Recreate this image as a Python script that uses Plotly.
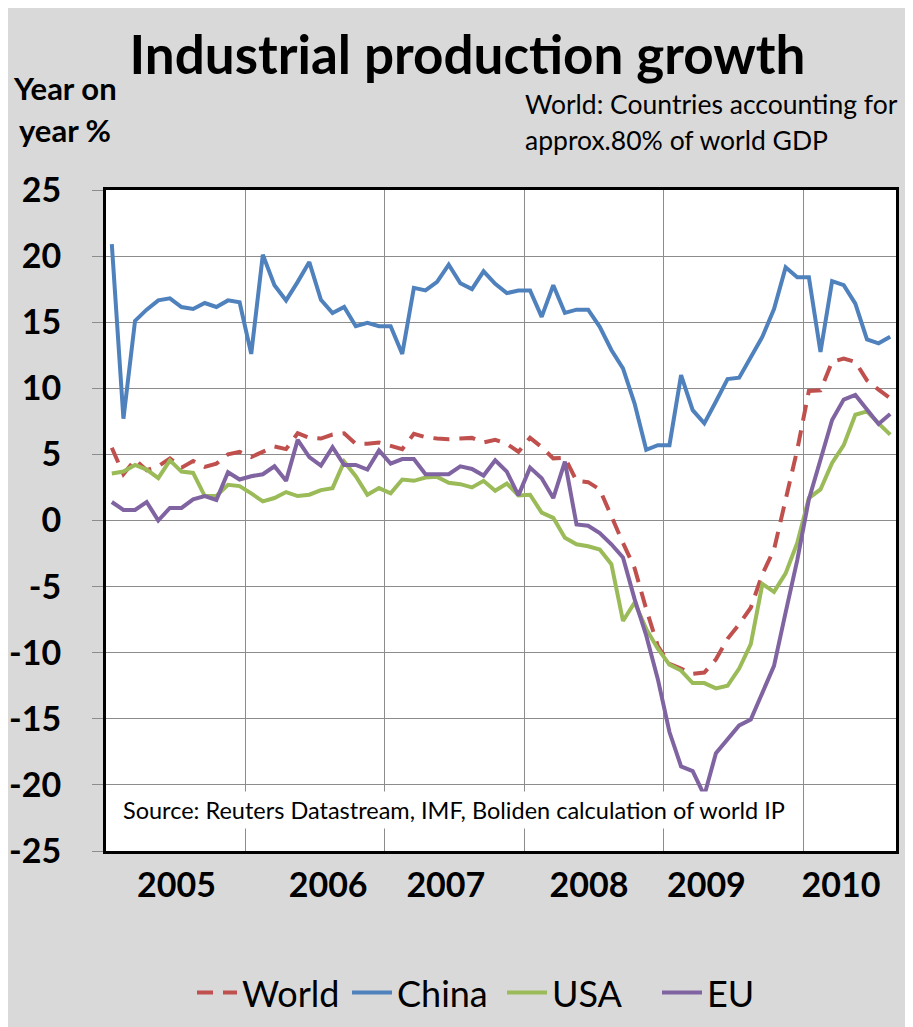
import plotly.graph_objects as go

# Monthly year-on-year industrial production growth, %
month_idx = list(range(68))

world = [5.5, 3.5, 4.6, 3.8, 4.1, 4.7, 4.0, 4.5, 4.05, 4.3,
         5.0, 5.2, 4.8, 5.2, 5.6, 5.4, 6.6, 6.25, 6.2, 6.5,
         6.6, 5.8, 5.8, 5.9, 5.65, 5.4, 6.55, 6.3, 6.2, 6.15,
         6.2, 6.25, 5.9, 6.1, 5.8, 5.2, 6.25, 5.55, 4.7, 4.75,
         3.0, 2.9, 2.35, 0.3, -1.7, -3.6, -6.7, -9.5, -10.85, -11.2,
         -11.6, -11.5, -10.5, -8.95, -7.85, -6.6, -4.05, -2.2, 1.6, 5.35,
         9.8, 9.85, 12.0, 12.25, 12.0, 10.6, 9.9, 9.25]

china = [20.9, 7.7, 15.1, 15.95, 16.65, 16.8, 16.15, 16.0, 16.45, 16.15,
         16.65, 16.5, 12.6, 20.1, 17.8, 16.65, 18.05, 19.55, 16.7, 15.7,
         16.15, 14.7, 14.95, 14.7, 14.7, 12.6, 17.6, 17.4, 18.05, 19.35,
         17.95, 17.5, 18.85, 17.9, 17.2, 17.4, 17.4, 15.4, 17.8, 15.7,
         15.95, 15.95, 14.65, 12.9, 11.5, 8.85, 5.35, 5.7, 5.7, 11.0,
         8.35, 7.35, 9.0, 10.7, 10.8, 12.4, 13.9, 16.0, 19.15, 18.4,
         18.4, 12.75, 18.1, 17.8, 16.4, 13.7, 13.4, 13.9]

usa = [3.55, 3.7, 4.2, 3.85, 3.2, 4.55, 3.7, 3.6, 1.85, 1.85,
       2.7, 2.6, 2.05, 1.45, 1.7, 2.15, 1.85, 1.95, 2.3, 2.45,
       4.45, 3.35, 1.95, 2.45, 2.05, 3.1, 3.0, 3.25, 3.3, 2.85,
       2.75, 2.5, 3.0, 2.25, 2.8, 1.9, 1.95, 0.6, 0.2, -1.3,
       -1.8, -1.95, -2.2, -3.3, -7.6, -6.2, -8.2, -9.7, -10.9, -11.35,
       -12.3, -12.3, -12.7, -12.5, -11.2, -9.35, -4.8, -5.4, -4.0, -1.7,
       1.7, 2.35, 4.35, 5.7, 8.0, 8.25, 7.35, 6.5]

eu = [1.4, 0.8, 0.8, 1.4, 0.0, 0.95, 0.95, 1.6, 1.85, 1.55,
      3.65, 3.1, 3.35, 3.5, 4.1, 3.0, 6.1, 4.8, 4.15, 5.55,
      4.2, 4.2, 3.85, 5.3, 4.3, 4.65, 4.65, 3.5, 3.5, 3.5,
      4.1, 3.9, 3.4, 4.55, 3.7, 1.9, 4.0, 3.2, 1.7, 4.45,
      -0.3, -0.4, -0.95, -1.8, -2.8, -5.95, -8.7, -12.0, -16.0, -18.6,
      -18.95, -20.8, -17.6, -16.6, -15.5, -15.05, -13.0, -11.0, -6.95, -3.0,
      1.6, 4.6, 7.6, 9.15, 9.5, 8.4, 7.3, 8.05]

year_labels = ['2005', '2006', '2007', '2008', '2009', '2010']
# where the year labels sit (in month units) and where year boundaries fall
year_label_pos = [5.57, 18.62, 28.75, 41.08, 51.18, 62.77]
year_bounds = [11.5, 23.5, 35.5, 47.5, 59.5]

y_ticks = [25, 20, 15, 10, 5, 0, -5, -10, -15, -20, -25]
y_ticktext = ['25', '20', '15', '10', '5', '0', '-5', '-10', '-15', '-20', '-25']

W, H = 913, 1027
OFF = 8  # the page puts the figure 8px in from the top-left corner
L, T = 106 - OFF, 190 - OFF
R, B = W - (896 - OFF), H - (853 - OFF)
FONT = 'Lato'


def px(x, y):
    # page pixel position -> paper coordinates
    return (x - OFF - L) / (W - L - R), (H - B - (y - OFF)) / (H - T - B)


fig = go.Figure()

series = [
    ('World', world, '#C0504D', '16px,10px'),
    ('China', china, '#4F81BD', 'solid'),
    ('USA', usa, '#9BBB59', 'solid'),
    ('EU', eu, '#8064A2', 'solid'),
]
for name, vals, color, dash in series:
    fig.add_trace(go.Scatter(
        x=month_idx, y=vals, mode='lines', name=name,
        line=dict(color=color, width=4, dash=dash),
    ))

fig.update_layout(
    width=W, height=H,
    margin=dict(l=L, r=R, t=T, b=B),
    paper_bgcolor='#D9D9D9',
    plot_bgcolor='white',
    font=dict(family=FONT, color='black'),
    title=dict(text='<b>Industrial production growth</b>',
               x=((130 + 805) / 2 - OFF) / W, xanchor='center',
               y=1 - (55 - OFF) / H, yanchor='middle', font=dict(size=53, family=FONT)),
    legend=dict(orientation='h', x=px(192, 0)[0], xanchor='left', y=px(0, 995)[1], yanchor='middle',
                font=dict(size=36), bgcolor='rgba(0,0,0,0)', itemwidth=40,
                entrywidth=100, entrywidthmode='pixels'),
    showlegend=True,
)

fig.update_xaxes(
    range=[-0.5, 67.5], automargin=False,
    tickmode='array', tickvals=year_label_pos, ticktext=year_labels,
    ticks='', showgrid=False, zeroline=False,
    tickfont=dict(size=34, family=FONT, weight='bold'),
    ticklabelstandoff=2,
    minor=dict(tickvals=year_bounds, showgrid=True, gridcolor='#8C8C8C', gridwidth=1, ticks=''),
    showline=True, linecolor='black', linewidth=3, mirror=True,
)
fig.update_yaxes(
    range=[-25, 25], automargin=False,
    tickmode='array', tickvals=y_ticks, ticktext=y_ticktext,
    ticks='outside', ticklen=11, tickcolor='#8C8C8C',
    gridcolor='#8C8C8C', gridwidth=1, zeroline=False,
    tickfont=dict(size=34, family=FONT, weight='bold'),
    ticklabelstandoff=24,
    showline=True, linecolor='black', linewidth=3, mirror=True,
)

# y-axis caption and subtitle
for text, x, y, size, anchor in [
    ('<b>Year on</b>', 65, 88, 31, 'center'),
    ('<b>year %</b>', 65, 130, 31, 'center'),
    ('World: Countries accounting for', 523, 104, 26.5, 'left'),
    ('approx.80% of world GDP', 523, 140, 26.5, 'left'),
]:
    xp, yp = px(x, y)
    fig.add_annotation(text=text, x=xp, y=yp, xref='paper', yref='paper',
                       xanchor=anchor, yanchor='middle', showarrow=False,
                       font=dict(size=size, family=FONT))

# source note on a white box inside the plot
xp, yp = px(118, 812)
fig.add_annotation(text='Source: Reuters Datastream, IMF, Boliden calculation of world IP',
                   x=xp, y=yp, xref='paper', yref='paper', xanchor='left', yanchor='middle',
                   showarrow=False, bgcolor='white', borderpad=4,
                   font=dict(size=23.5, family=FONT))

fig.write_html("out.html")
